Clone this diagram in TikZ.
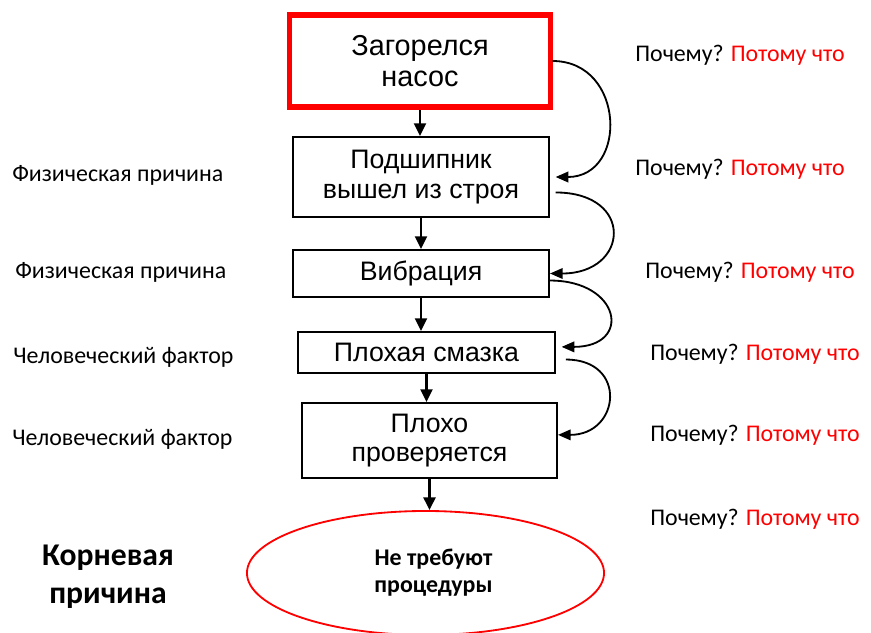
\documentclass[tikz,border=0pt]{standalone}
\usepackage{fontspec}
\setmainfont{Liberation Sans}
\newfontfamily\calibri{Carlito}
\usetikzlibrary{shapes.geometric,arrows.meta}

\tikzset{
  box/.style={draw=black,line width=1.4pt,align=center,inner sep=0pt,font=\fontsize{19}{21}\selectfont},
  side/.style={anchor=west,inner sep=0pt,font=\calibri\fontsize{17}{19}\selectfont},
  link/.style={-{Triangle[length=9pt,width=8.5pt]},line width=1.6pt},
  back/.style={-{Triangle[length=9pt,width=7.5pt]},line width=1.3pt},
}

\begin{document}
\begin{tikzpicture}[x=0.025cm,y=-0.025cm]
  \useasboundingbox (0,0) rectangle (871,633);
  \node[box,draw=red,line width=3.6pt,minimum width=6.5cm,minimum height=2.3cm,font=\fontsize{20.5}{22}\selectfont] (fire) at (420,61) {Загорелся\\насос};
  \node[box,minimum width=6.4cm,minimum height=2cm] (bear) at (421,177) {Подшипник\\вышел из строя};
  \node[box,minimum width=6.4cm,minimum height=1.175cm] (vibr) at (421,273.5) {Вибрация};
  \node[box,minimum width=6.425cm,minimum height=1.025cm] (oil) at (426.5,352.5) {Плохая смазка};
  \node[box,minimum width=6.375cm,minimum height=1.875cm] (check) at (429.5,440.5) {Плохо\\проверяется};
  \node[ellipse,draw=red,line width=1.3pt,inner sep=0pt,minimum width=8.925cm,minimum height=3.1cm,align=center,font=\calibri\bfseries\fontsize{17}{19}\selectfont] (root) at (425.5,573) {\hspace*{0.4cm}Не требуют\\\hspace*{0.4cm}процедуры};

  \node[side] (l1) at (12,175) {Физическая причина};
  \node[side] (l2) at (15,272) {Физическая причина};
  \node[side] (l3) at (13,357) {Человеческий фактор};
  \node[side] (l4) at (12,439) {Человеческий фактор};
  \node[align=center,font=\calibri\bfseries\fontsize{22.5}{27}\selectfont] (rc) at (108,577) {Корневая\\причина};

  \node[side] (w1) at (635,55) {Почему? \textcolor{red}{Потому что}};
  \node[side] (w2) at (635,169) {Почему? \textcolor{red}{Потому что}};
  \node[side] (w3) at (645,272) {Почему? \textcolor{red}{Потому что}};
  \node[side] (w4) at (650,354) {Почему? \textcolor{red}{Потому что}};
  \node[side] (w5) at (650,435) {Почему? \textcolor{red}{Потому что}};
  \node[side] (w6) at (650,519) {Почему? \textcolor{red}{Потому что}};

  \draw[link] (fire.south) -- (fire.south |- bear.north);
  \draw[link] (bear.south) -- (bear.south |- vibr.north);
  \draw[link] (vibr.south) -- (vibr.south |- oil.north);
  \draw[link] (oil.south) -- (oil.south |- check.north);
  \draw[link] (check.south) -- (check.south |- root.north);

  \draw[back] (fire.east) to[out=0,in=0,looseness=1.6] ([xshift=4pt]bear.east);
  \draw[back] ([xshift=4pt,yshift=-11pt]bear.east) to[out=0,in=0,looseness=2.5] (vibr.east);
  \draw[back] ([yshift=-5pt]vibr.east) to[out=0,in=0,looseness=2.7] ([xshift=4pt,yshift=4pt]oil.east);
  \draw[back] ([xshift=7pt,yshift=-5pt]oil.east) to[out=0,in=0,looseness=2.1] ([yshift=4pt]check.east);
\end{tikzpicture}
\end{document}
